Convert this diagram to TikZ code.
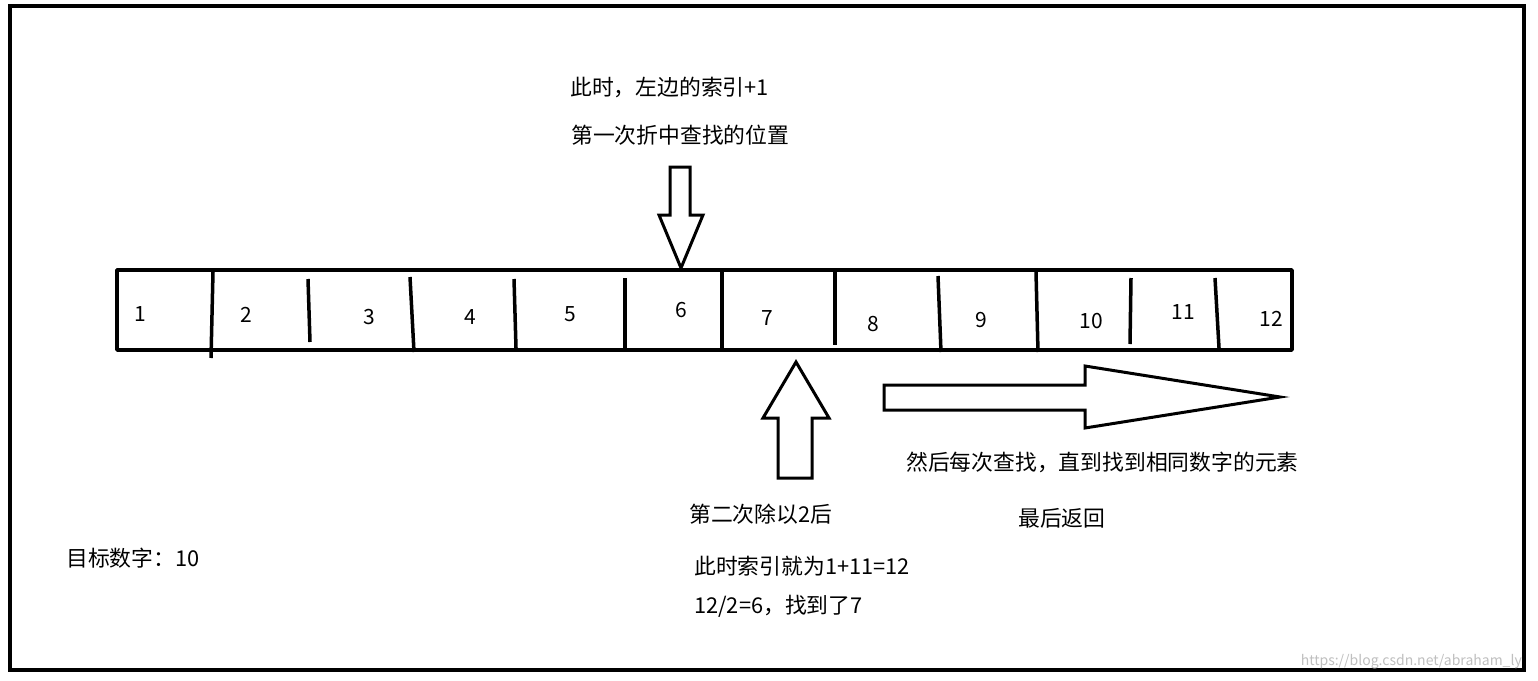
\documentclass[tikz,border=0pt]{standalone}
\usepackage{fontspec}
\setmainfont{Noto Sans CJK SC}
\begin{document}
\begin{tikzpicture}[x=1pt,y=-1pt,
  lbl/.style={anchor=west,inner sep=0pt,font=\fontsize{21.8}{24}\selectfont},
  num/.style={inner sep=0pt,font=\fontsize{21}{24}\selectfont},
  ln/.style={line width=3.5pt,line join=round}]
\useasboundingbox (0,0) rectangle (1538,680);
\fill[white] (0,0) rectangle (1538,680);
\draw[line width=4pt] (10,6) rectangle (1524,670);
% array
\draw[ln] (117,270) rectangle (1292,350);
\draw[ln] (213,272) -- (211,358);
\draw[ln] (308,279) -- (310,342);
\draw[ln] (410,277) -- (414,352);
\draw[ln] (514,279) -- (516,348);
\draw[ln] (625,278) -- (625,348);
\draw[ln] (722,272) -- (722,348);
\draw[ln] (835,272) -- (835,345);
\draw[ln] (938,276) -- (941,352);
\draw[ln] (1036,272) -- (1038,352);
\draw[ln] (1131,278) -- (1130,344);
\draw[ln] (1215,278) -- (1219,348);
\foreach \x/\y/\t in {140/314/1,246/315/2,369/317/3,470/317/4,570/314/5,681/310/6,767/318/7,873/324/8,981/320/9,1091/321/10,1183/312/11,1271/319/12}
  \node[num] (n\t) at (\x,\y) {\t};
% arrows
\draw[line width=3pt,line join=miter] (670,167) -- (690,167) -- (690,215) -- (703,215) -- (681,268) -- (659,215) -- (670,215) -- cycle;
\draw[line width=3pt,line join=miter] (778,478) -- (812,478) -- (812,418) -- (829,418) -- (796,362) -- (763,418) -- (778,418) -- cycle;
\draw[line width=3pt,line join=miter] (884,385) -- (1085,385) -- (1085,366) -- (1280,397) -- (1085,428) -- (1085,410) -- (884,410) -- cycle;
% texts
\node[lbl] (t1) at (570,87) {此时，左边的索引+1};
\node[lbl] (t2) at (571,135) {第一次折中查找的位置};
\node[lbl] (t3) at (906,462) {然后每次查找，直到找到相同数字的元素};
\node[lbl] (t4) at (1018,518) {最后返回};
\node[lbl] (t5) at (689,514) {第二次除以2后};
\node[lbl] (t6) at (694,566) {此时索引就为1+11=12};
\node[lbl] (t7) at (694,606) {12/2=6，找到了7};
\node[lbl] (t8) at (66,558) {目标数字：10};
\node[anchor=east,inner sep=0pt,text=black!25,font=\fontsize{14}{16}\selectfont] (wm) at (1522,662) {https://blog.csdn.net/abraham\_ly};
\end{tikzpicture}
\end{document}
